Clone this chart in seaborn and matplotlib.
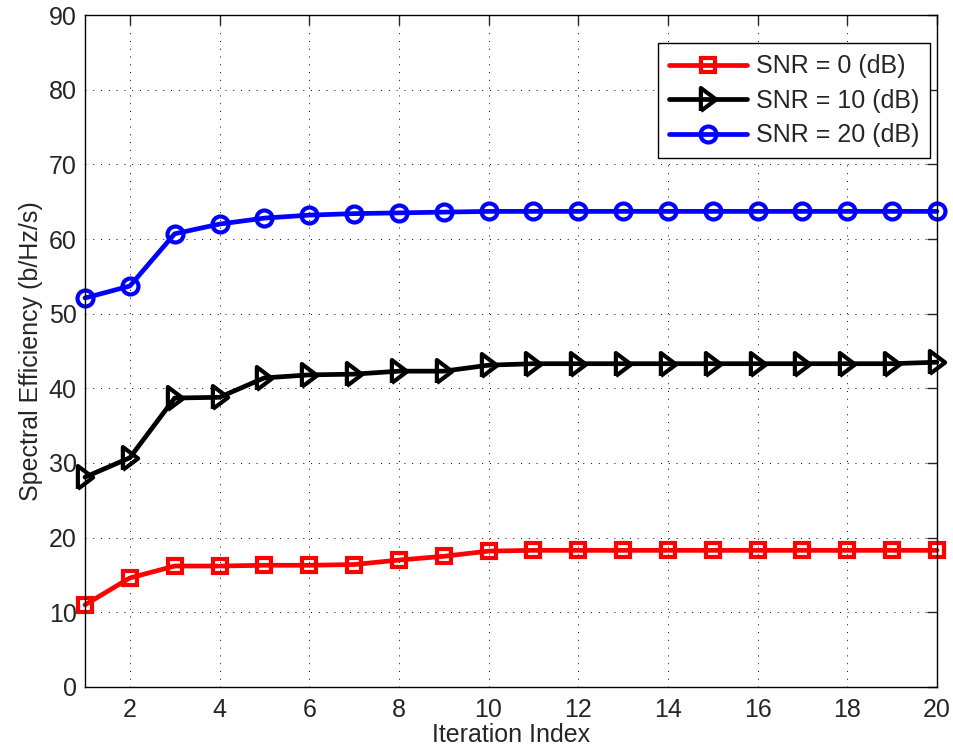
import matplotlib
matplotlib.use("Agg")
import matplotlib.pyplot as plt
import seaborn as sns
import pandas as pd

# Data
iterations = list(range(1, 21))
se_snr0 = [11.0, 14.6, 16.2, 16.2, 16.3, 16.3, 16.4, 17.0, 17.5, 18.2,
           18.3, 18.3, 18.3, 18.3, 18.3, 18.3, 18.3, 18.3, 18.3, 18.3]
se_snr10 = [28.1, 30.7, 38.7, 38.8, 41.4, 41.8, 41.9, 42.3, 42.3, 43.1,
            43.3, 43.3, 43.3, 43.3, 43.3, 43.3, 43.3, 43.3, 43.3, 43.5]
se_snr20 = [52.1, 53.7, 60.7, 62.0, 62.8, 63.2, 63.4, 63.5, 63.6, 63.7,
            63.7, 63.7, 63.7, 63.7, 63.7, 63.7, 63.7, 63.7, 63.7, 63.7]
labels = ["SNR = 0 (dB)", "SNR = 10 (dB)", "SNR = 20 (dB)"]

sns.set_style("white")
plt.rcParams['font.family'] = ['Liberation Sans', 'DejaVu Sans']

fig = plt.figure(figsize=(9.54, 7.55), dpi=100)
ax = fig.add_axes([0.0891, 0.0901, 0.893, 0.890])

# matlab-like right-pointing triangle (taller than wide)
tri_right = [(-1, -1.5), (1, 0), (-1, 1.5), (-1, -1.5)]

styles = [
    (se_snr0, "#ff0000", "s", 10.5),
    (se_snr10, "black", tri_right, 16.5),
    (se_snr20, "#0000ff", "o", 11.5),
]
for (vals, color, marker, ms), label in zip(styles, labels):
    df = pd.DataFrame({"Iteration": iterations, "SE": vals})
    sns.lineplot(data=df, x="Iteration", y="SE", ax=ax, color=color,
                 linewidth=3.4, marker=marker, markersize=ms,
                 markerfacecolor="none", markeredgecolor=color,
                 markeredgewidth=3.0, label=label, clip_on=False)

ax.set_xlim(1, 20)
ax.set_ylim(0, 90)
ax.set_xticks(range(2, 21, 2))
ax.set_yticks(range(0, 91, 10))
ax.grid(True, color="black", linestyle=(0, (1, 7)), linewidth=0.7)
ax.tick_params(direction="in", top=True, right=True, length=7,
               labelsize=18, width=1)
ax.tick_params(axis="x", pad=8)
ax.tick_params(axis="y", pad=6)
for s in ax.spines.values():
    s.set_color("black")
    s.set_linewidth(1)
    s.set_zorder(5)
ax.set_xlabel("Iteration Index", fontsize=18, labelpad=1)
ax.set_ylabel("Spectral Efficiency (b/Hz/s)", fontsize=18, labelpad=4)

leg = ax.legend(loc="upper right", fontsize=18, frameon=True, fancybox=False,
                edgecolor="black", framealpha=1, handlelength=3.1,
                borderpad=0.4, labelspacing=0.42, handletextpad=0.35,
                borderaxespad=0, bbox_to_anchor=(0.992, 0.958))
leg.get_frame().set_linewidth(1)
leg._legend_box.pad = 8  # bit more room on the left of the handles

fig.savefig("out.png", dpi=100)
